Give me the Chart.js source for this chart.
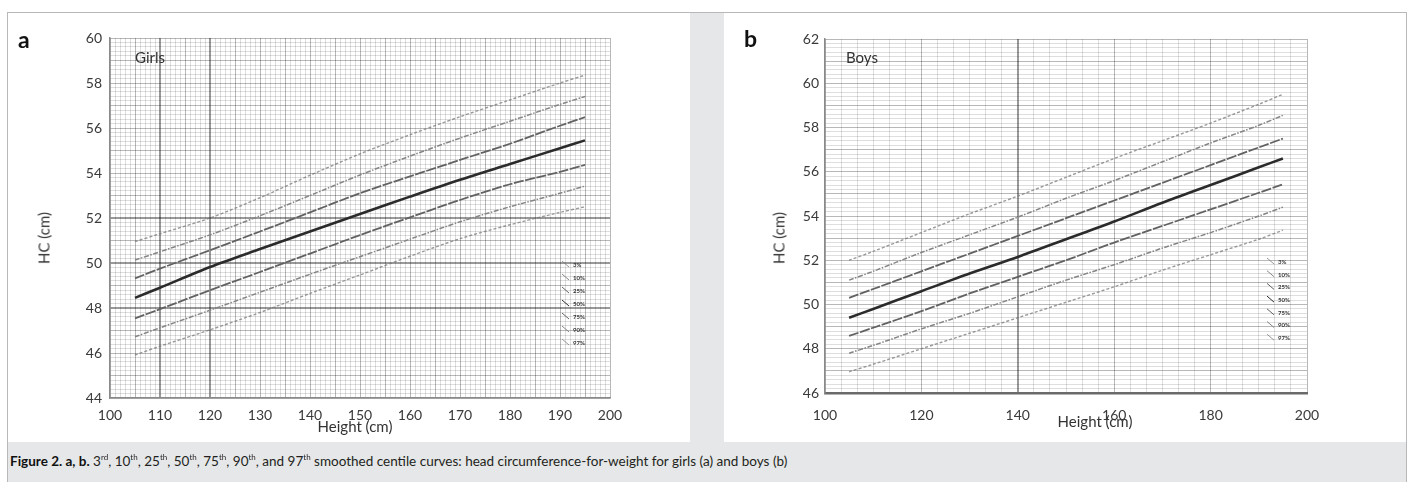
<!DOCTYPE html>
<html><head><meta charset="utf-8">
<script src="https://cdn.jsdelivr.net/npm/chart.js@4/dist/chart.umd.min.js"></script>
<style>
html,body{margin:0;padding:0;background:#fff;width:1410px;height:482px;overflow:hidden;font-family:Lato,"Open Sans",sans-serif;color:#2a2a2a;}
#frame{position:absolute;left:7px;top:12px;width:1398px;height:470px;border-top:1px solid #b8b8b8;border-left:1px solid #b8b8b8;border-right:1px solid #b8b8b8;background:#e6e7e8;}
.panel{position:absolute;background:#fff;width:682px;height:429px;}
#pa{left:8px;top:13px;}
#pb{left:724px;top:13px;}
canvas{position:absolute;left:0;top:0;}
.t{position:absolute;white-space:nowrap;line-height:1;}
.letter{font-weight:bold;font-size:23px;color:#111;}
.sex{font-size:15px;color:#333;}
.xt{font-size:15px;color:#333;transform:translateX(-50%);}
.yt{font-size:15px;color:#333;transform:translate(-50%,-50%) rotate(-90deg);}
#caption{position:absolute;left:10px;top:455px;font-size:13.5px;color:#231f20;white-space:nowrap;line-height:1;}
#caption b{color:#111;}
sup{font-size:8px;vertical-align:top;position:relative;top:-2px;}
</style></head>
<body>
<div id="frame"></div>
<div class="panel" id="pa"><canvas id="ca" width="682" height="429"></canvas></div>
<div class="panel" id="pb"><canvas id="cb" width="682" height="429"></canvas></div>
<div class="t letter" style="left:18px;top:28px;">a</div>
<div class="t letter" style="left:744px;top:27px;">b</div>
<div class="t sex" style="left:135px;top:50px;">Girls</div>
<div class="t sex" style="left:846px;top:50px;">Boys</div>
<div class="t yt" style="left:44px;top:238px;">HC (cm)</div>
<div class="t yt" style="left:779px;top:238px;">HC (cm)</div>
<div class="t xt" style="left:355px;top:419px;">Height (cm)</div>
<div class="t xt" style="left:1095px;top:414px;">Height (cm)</div>
<div id="caption"><b>Figure 2. a, b.</b> 3<sup>rd</sup>, 10<sup>th</sup>, 25<sup>th</sup>, 50<sup>th</sup>, 75<sup>th</sup>, 90<sup>th</sup>, and 97<sup>th</sup> smoothed centile curves: head circumference-for-weight for girls (a) and boys (b)</div>
<script>
// ---- data ----
const heights = [105,110,120,130,140,150,160,170,180,190,195];
const centileLabels = ['3%','10%','25%','50%','75%','90%','97%'];

const girls3  = [45.91,46.30,47.03,47.80,48.65,49.47,50.30,51.08,51.70,52.25,52.50];
const girls10 = [46.72,47.12,47.90,48.70,49.50,50.28,51.06,51.83,52.50,53.10,53.42];
const girls25 = [47.54,47.95,48.79,49.60,50.42,51.24,52.03,52.80,53.50,54.05,54.36];
const girls50 = [48.45,48.90,49.82,50.62,51.40,52.18,52.95,53.70,54.40,55.10,55.45];
const girls75 = [49.32,49.75,50.57,51.40,52.25,53.10,53.85,54.58,55.30,56.10,56.48];
const girls90 = [50.13,50.50,51.25,52.10,53.00,53.91,54.75,55.55,56.30,57.05,57.40];
const girls97 = [50.95,51.30,52.00,52.90,53.90,54.85,55.70,56.50,57.25,58.00,58.35];

const boys3  = [46.96,47.30,48.00,48.70,49.40,50.10,50.80,51.55,52.25,52.95,53.36];
const boys10 = [47.80,48.15,48.90,49.60,50.35,51.10,51.80,52.55,53.25,54.00,54.40];
const boys25 = [48.58,48.95,49.70,50.50,51.25,52.00,52.80,53.55,54.30,55.05,55.43];
const boys50 = [49.40,49.80,50.60,51.40,52.15,52.95,53.75,54.60,55.40,56.20,56.60];
const boys75 = [50.30,50.70,51.50,52.30,53.10,53.90,54.70,55.50,56.30,57.10,57.50];
const boys90 = [51.10,51.50,52.35,53.15,53.95,54.80,55.60,56.45,57.30,58.10,58.55];
const boys97 = [52.00,52.40,53.25,54.10,54.90,55.75,56.60,57.40,58.20,59.05,59.50];

const girlsXTicks = [100,110,120,130,140,150,160,170,180,190,200];
const girlsYTicks = [44,46,48,50,52,54,56,58,60];
const boysXTicks  = [100,120,140,160,180,200];
const boysYTicks  = [46,48,50,52,54,56,58,60,62];

// ---- styles ----
const lineStyles = [
  {c:'rgba(120,120,120,0.75)', w:1.4, d:[3,2]},
  {c:'#858585', w:1.5, d:[5,1.5,1.5,1.5]},
  {c:'#626262', w:1.8, d:[10,1.5]},
  {c:'#2b2b2b', w:2.6, d:[]},
  {c:'#626262', w:1.8, d:[10,1.5]},
  {c:'#858585', w:1.5, d:[5,1.5,1.5,1.5]},
  {c:'rgba(120,120,120,0.75)', w:1.4, d:[3,2]}
];
const FINE='rgba(0,0,0,0.13)', MED='rgba(0,0,0,0.28)', DARK='rgba(0,0,0,0.40)';

const near = (arr, v) => arr.some(t => Math.abs(t - v) < 1e-3);

function gridValues(min, max, n){
  const out=[]; for(let i=0;i<=n;i++){ out.push(Math.round((min + i*(max-min)/n)*1000)/1000); } return out;
}

const miniLegend = {
  id:'miniLegend',
  afterDatasetsDraw(chart, args, o){
    const ctx = chart.ctx, a = chart.chartArea;
    ctx.save();
    ctx.font = 'bold 6px Lato, sans-serif';
    ctx.textBaseline = 'middle';
    centileLabels.forEach((lab,i)=>{
      const y = a.top + o.top + i*o.gap;
      const s = lineStyles[i];
      ctx.strokeStyle = s.c; ctx.lineWidth = 1; ctx.setLineDash([]);
      ctx.beginPath(); ctx.moveTo(a.right - o.dx - 11, y - 4); ctx.lineTo(a.right - o.dx - 4, y + 2); ctx.stroke();
      ctx.fillStyle = '#333';
      ctx.fillText(lab, a.right - o.dx, y);
    });
    ctx.restore();
  }
};

function makeChart(id, series, cfg){
  const W = 682, H = 429;
  const xGrid = gridValues(cfg.xMin, cfg.xMax, cfg.xN);
  const yGrid = gridValues(cfg.yMin, cfg.yMax, cfg.yN);
  const datasets = series.map((arr,i)=>({
    label: centileLabels[i],
    data: heights.map((h,k)=>({x:h, y:arr[k]})),
    borderColor: lineStyles[i].c,
    borderWidth: lineStyles[i].w,
    borderDash: lineStyles[i].d,
    pointRadius: 0,
    tension: 0.3,
    fill: false
  }));
  return new Chart(document.getElementById(id), {
    type:'line',
    data:{datasets},
    plugins:[miniLegend],
    options:{
      responsive:false, animation:false, events:[],
      layout:{padding:{left:0, top:cfg.area.top, right:W - cfg.area.right, bottom:0}},
      plugins:{legend:{display:false}, tooltip:{enabled:false}, miniLegend:cfg.legend},
      scales:{
        x:{
          type:'linear', min:cfg.xMin, max:cfg.xMax,
          afterBuildTicks: ax => { ax.ticks = xGrid.map(v=>({value:v})); },
          afterFit: s => { s.height = H - cfg.area.bottom; s.paddingLeft = 0; s.paddingRight = 0; },
          ticks:{autoSkip:false, maxRotation:0, padding:cfg.xPad, color:'#3a3a3a', font:{family:'Lato', size:14},
                 callback: v => near(cfg.xLabels, v) ? String(Math.round(v)) : ''},
          grid:{drawTicks:false,
                color: c => { const v=c.tick?c.tick.value:0; return near(cfg.xDark,v)?DARK:(near(cfg.xMed,v)?MED:FINE); },
                lineWidth: c => { const v=c.tick?c.tick.value:0; return near(cfg.xDark,v)?2:1; }},
          border:{color:cfg.bottomColor, width:cfg.bottomWidth}
        },
        y:{
          type:'linear', min:cfg.yMin, max:cfg.yMax,
          afterBuildTicks: ax => { ax.ticks = yGrid.map(v=>({value:v})); },
          afterFit: s => { s.width = cfg.area.left; s.paddingTop = 0; s.paddingBottom = 0; },
          ticks:{autoSkip:false, padding:cfg.yPad, color:'#3a3a3a', font:{family:'Lato', size:14},
                 callback: v => near(cfg.yLabels, v) ? String(Math.round(v)) : ''},
          grid:{drawTicks:false,
                color: c => { const v=c.tick?c.tick.value:0; return near(cfg.yDark,v)?DARK:(Math.abs(v-Math.round(v))<1e-3?MED:FINE); },
                lineWidth: c => { const v=c.tick?c.tick.value:0; return near(cfg.yDark,v)?2:1; }},
          border:{color:'#8a8a8a', width:1.5}
        }
      }
    }
  });
}

makeChart('ca', [girls3,girls10,girls25,girls50,girls75,girls90,girls97], {
  xMin:100, xMax:200, xN:100, yMin:44, yMax:60, yN:80,
  xLabels:girlsXTicks, yLabels:girlsYTicks,
  xDark:[110,120], xMed:[100,105,115,125,130,135,140,145,150,155,160,165,170,175,180,185,190,195,200],
  yDark:[48,50,52],
  area:{left:102, top:25, right:602, bottom:385},
  xPad:9, yPad:8, bottomColor:'#8a8a8a', bottomWidth:1.5,
  legend:{top:227, gap:13, dx:37}
});

makeChart('cb', [boys3,boys10,boys25,boys50,boys75,boys90,boys97], {
  xMin:100, xMax:200, xN:30, yMin:46, yMax:62, yN:80,
  xLabels:boysXTicks, yLabels:boysYTicks,
  xDark:[140], xMed:[100,120,160,180,200],
  yDark:[],
  area:{left:101, top:26, right:583, bottom:380},
  xPad:14, yPad:6, bottomColor:'#6a6a6a', bottomWidth:2.5,
  legend:{top:223, gap:12.7, dx:29}
});
</script>
</body></html>
